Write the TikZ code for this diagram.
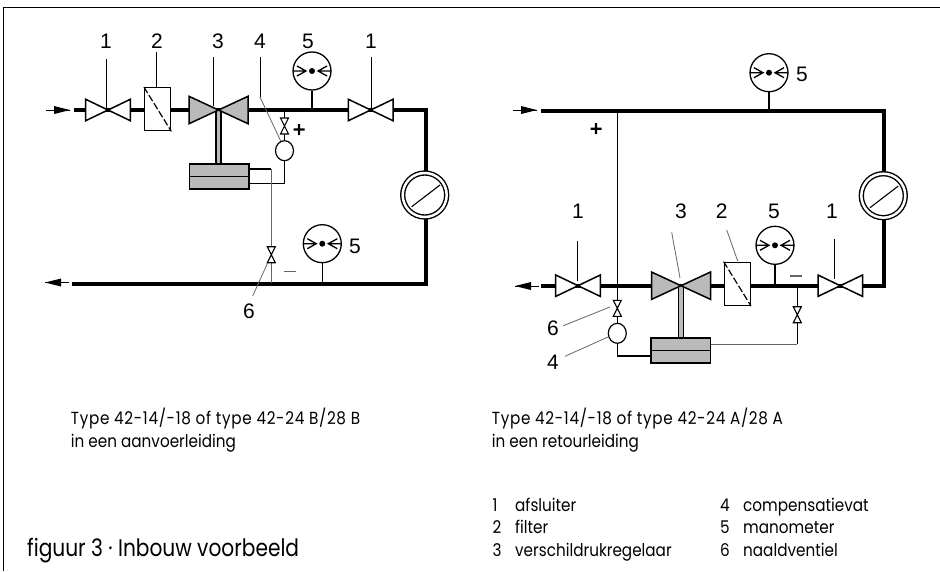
\documentclass[tikz,border=0pt]{standalone}
\usepackage{fontspec}
\usetikzlibrary{shapes.geometric}
\setmainfont{Liberation Sans}
\newfontfamily\capfont[FakeStretch=0.87]{Poppins}
\newfontfamily\capwide[FakeStretch=0.87,LetterSpace=3.9]{Poppins}
\newfontfamily\capbigfont[FakeStretch=0.84]{Poppins}
\begin{document}
\begin{tikzpicture}[x=1pt,y=-1pt,
  pipe/.style={line width=4pt,line cap=butt,line join=miter},
  thin line/.style={line width=1.1pt,black},
  graythin/.style={line width=0.8pt,black!60},
  leaderline/.style={line width=0.8pt,black!60},
  leaderblack/.style={line width=0.9pt,black},
  outline/.style={line width=1.5pt,black,line join=miter},
  num/.style={font=\fontsize{21}{21}\selectfont,inner sep=0pt},
  captext/.style={font=\capfont\fontsize{17.5}{17.5}\selectfont,anchor=base west,inner sep=0pt},
  capwidetext/.style={font=\capwide\fontsize{17.5}{17.5}\selectfont,anchor=base west,inner sep=0pt},
  capbig/.style={font=\capbigfont\fontsize{24}{24}\selectfont,anchor=base west,inner sep=0pt},
  gaugenode/.style={circle,draw,line width=1.3pt,fill=white,minimum size=38pt,inner sep=0pt},
  flownode/.style={circle,draw,double,double distance=2.5pt,line width=1.4pt,fill=white,minimum size=44pt,inner sep=0pt},
  vesselnode/.style={ellipse,draw,line width=1.2pt,fill=white,minimum width=18pt,minimum height=20pt,inner sep=0pt},
  filternode/.style={rectangle,draw,line width=1.4pt,fill=white,minimum width=26pt,minimum height=43pt,inner sep=0pt},
  boxnode/.style={rectangle,draw,line width=1.6pt,fill=black!27,minimum width=59.5pt,minimum height=25pt,inner sep=0pt},
  pics/bowtie/.style n args={3}{code={
    \draw[outline,fill=#1] (-#2,-#3) -- (#2,#3) -- (#2,-#3) -- (-#2,#3) -- cycle;}},
  pics/needle/.style={code={
    \draw[line width=1.1pt,fill=white] (-4,-8) -- (4,8) -- (-4,8) -- (4,-8) -- cycle;}},
  pics/dial/.style={code={
    \fill (0,0) circle (3);
    \draw[line width=1.3pt] (-19,0) -- (-6,0) (-15,-5) -- (-6,0) -- (-15,5);
    \draw[line width=1.3pt] (19,0) -- (6,0) (15,-5) -- (6,0) -- (15,5);}},
  pics/stemrect/.style={code={
    \draw[line width=1.1pt,fill=black!27] (-2.5,0) rectangle (2.5,#1);}},
  pics/flowarrow/.style={code={
    \draw[line width=0.9pt] (-24,0) -- (0,0);
    \fill (-16,-4) -- (0,0) -- (-16,4) -- cycle;}},
]
\useasboundingbox (0,0) rectangle (940,571);
% frame
\coordinate (f1) at (3.5,571); \coordinate (f2) at (3.5,7.5); \coordinate (f3) at (940,7.5);
\draw[line width=1.2pt] (f1) -- (f2) -- (f3);

%%%%% LEFT DIAGRAM
\coordinate (Ls) at (74,110); \coordinate (Lc1) at (426,110); \coordinate (Lc2) at (426,283.5); \coordinate (Le) at (72,283.5);
\coordinate (Lv1) at (108,110); \coordinate (Lv3) at (218.5,110); \coordinate (Lv1b) at (370.7,110);
\draw[pipe] (Ls) -- (Lc1) -- (Lc2) -- (Le);
\pic at (70,110) {flowarrow};
\pic[xscale=-1] at (45,282.5) {flowarrow};
% valves
\pic at (Lv1) {bowtie={white}{22.3}{10.7}};
\node[filternode] (Lf) at (157.6,109.2) {};
\draw[line width=1.2pt,dash pattern=on 7pt off 2.5pt] (Lf.north west) -- (Lf.south east);
\pic at (Lv1b) {bowtie={white}{22.3}{10.7}};
% regulator
\node[boxnode] (Lb) at (219.2,176.5) {};
\draw[line width=1.4pt] (Lb.west) -- (Lb.east);
\pic at (Lv3) {stemrect={54}};
\pic at (Lv3) {bowtie={black!27}{29.5}{13.7}};
% gauges
\node[gaugenode] (Lg1) at (312,71) {};
\pic at (Lg1) {dial};
\node[gaugenode] (Lg2) at (322.3,243.7) {};
\pic at (Lg2) {dial};
\coordinate (Lg1p) at (312,110); \coordinate (Lg2p) at (322.3,283.5);
\draw[line width=1.5pt] (Lg1) -- (Lg1p);
\draw[line width=1.5pt] (Lg2) -- (Lg2p);
% flowmeter
\node[flownode] (Lm) at (424.7,195) {};
\coordinate (Lm1) at (411.7,206.7); \coordinate (Lm2) at (440,185);
\draw[line width=1.1pt] (Lm1) -- (Lm2);
% impulse lines
\node[vesselnode] (Lt) at (284.5,150.7) {};
\coordinate (Ln1) at (284.5,126); \coordinate (Lnp) at (284.5,110);
\draw[thin line] (Lnp) -- (Lt);
\pic at (Ln1) {needle};
\coordinate (Lq1) at (284.5,183.3); \coordinate (Lq2) at (249,183.3);
\draw[thin line] (Lt) -- (Lq1) -- (Lq2);
\coordinate (Lr1) at (249,169); \coordinate (Lr2) at (271.3,169); \coordinate (Lr3) at (271.3,283);
\draw[thin line] (Lr1) -- (Lr2);
\draw[graythin] (Lr2) -- (Lr3);
\pic at (271.3,254.7) {needle};
% texts
\node[num] (Ln1a) at (106,41) {1};
\node[num] (Ln2a) at (157,41) {2};
\node[num] (Ln3a) at (218,41) {3};
\node[num] (Ln4a) at (260,41) {4};
\node[num] (Ln5a) at (308,41) {5};
\node[num] (Ln1b) at (371,41) {1};
\node[num] (Ln5b) at (355,246) {5};
\node[num] (Ln6a) at (249,311) {6};
% leaders
\coordinate (a1) at (106.5,59); \coordinate (a2) at (106.5,109);
\draw[leaderblack] (a1) -- (a2);
\coordinate (b1) at (156.3,52); \coordinate (b2) at (156.3,87);
\draw[leaderblack] (b1) -- (b2);
\coordinate (c1) at (213.3,57); \coordinate (c2) at (213.3,106);
\draw[leaderblack] (c1) -- (c2);
\coordinate (d1) at (260,57); \coordinate (d2) at (260,97); \coordinate (d3) at (280.7,141);
\draw[leaderblack] (d1) -- (d2);
\draw[leaderline] (d2) -- (d3);
\coordinate (e1) at (371.3,57); \coordinate (e2) at (371.3,110);
\draw[leaderblack] (e1) -- (e2);
\coordinate (g1) at (267.7,262.7); \coordinate (g2) at (252.7,296);
\draw[leaderline] (g1) -- (g2);
% plus / minus
\coordinate (Lpl) at (299,129.5);
\fill (Lpl) +(-5.5,-1.2) rectangle +(5.5,1.2) (Lpl) +(-1.2,-5.5) rectangle +(1.2,5.5);
\coordinate (Lmi1) at (284,271.5); \coordinate (Lmi2) at (296,271.5);
\draw[line width=1.2pt,black!60] (Lmi1) -- (Lmi2);

%%%%% RIGHT DIAGRAM
\coordinate (Rs) at (541,111); \coordinate (Rc1) at (884,111); \coordinate (Rc2) at (884,285.7); \coordinate (Re) at (541,285.7);
\draw[pipe] (Rs) -- (Rc1) -- (Rc2) -- (Re);
\pic at (537,110) {flowarrow};
\pic[xscale=-1] at (515,286) {flowarrow};
% impulse lines
\node[vesselnode] (Rt) at (617.3,333.3) {};
\coordinate (Rp) at (617.3,111);
\draw[thin line] (Rp) -- (Rt);
\pic at (617.3,308.3) {needle};
\coordinate (Rq1) at (617.3,356); \coordinate (Rq2) at (651,356);
\draw[thin line] (Rt) -- (Rq1) -- (Rq2);
\coordinate (Ru1) at (797.3,285.7); \coordinate (Ru2) at (797.3,344.3); \coordinate (Ru3) at (710,344.3);
\draw[thin line] (Ru1) -- (Ru2);
\draw[graythin] (Ru2) -- (Ru3);
\pic at (797.3,314.7) {needle};
% valves
\coordinate (Rv3) at (681,285.7);
\pic at (578,285.7) {bowtie={white}{22.3}{10.7}};
\pic at (840.3,285.7) {bowtie={white}{22.3}{10.7}};
\node[filternode] (Rf) at (737.3,283.8) {};
\draw[line width=1.2pt,dash pattern=on 7pt off 2.5pt] (Rf.north west) -- (Rf.south east);
\node[boxnode] (Rb) at (680.7,350.3) {};
\draw[line width=1.4pt] (Rb.west) -- (Rb.east);
\pic at (Rv3) {stemrect={52}};
\pic at (Rv3) {bowtie={black!27}{29.5}{13.7}};
% gauges
\node[gaugenode] (Rg1) at (769,72.7) {};
\pic at (Rg1) {dial};
\node[gaugenode] (Rg2) at (775,245.3) {};
\pic at (Rg2) {dial};
\coordinate (Rg1p) at (769,111); \coordinate (Rg2p) at (775,285.7);
\draw[line width=1.5pt] (Rg1) -- (Rg1p);
\draw[line width=1.5pt] (Rg2) -- (Rg2p);
% flowmeter
\node[flownode] (Rm) at (883.3,195.7) {};
\coordinate (Rm1) at (870,207.7); \coordinate (Rm2) at (898.3,186);
\draw[line width=1.1pt] (Rm1) -- (Rm2);
% numbers
\node[num] (Rn5a) at (802,74) {5};
\node[num] (Rn1a) at (578,211) {1};
\node[num] (Rn3a) at (681,211) {3};
\node[num] (Rn2a) at (721.7,211) {2};
\node[num] (Rn5b) at (774,211) {5};
\node[num] (Rn1b) at (832,211) {1};
\node[num] (Rn6a) at (553,328) {6};
\node[num] (Rn4a) at (553,362) {4};
% leaders
\coordinate (h1) at (577.3,241); \coordinate (h2) at (577.3,281);
\draw[leaderblack] (h1) -- (h2);
\coordinate (i1) at (671.7,232.3); \coordinate (i2) at (680,278);
\draw[leaderline] (i1) -- (i2);
\coordinate (j1) at (726.7,230); \coordinate (j2) at (737.7,261);
\draw[leaderline] (j1) -- (j2);
\coordinate (k1) at (834.5,239); \coordinate (k2) at (834.5,279);
\draw[leaderblack] (k1) -- (k2);
\coordinate (m1) at (563.3,325.7); \coordinate (m2) at (610,307);
\draw[leaderline] (m1) -- (m2);
\coordinate (n1) at (565,356.3); \coordinate (n2) at (608,337);
\draw[leaderline] (n1) -- (n2);
% plus / minus
\coordinate (Rpl) at (596,128.7);
\fill (Rpl) +(-5.5,-1.2) rectangle +(5.5,1.2) (Rpl) +(-1.2,-5.5) rectangle +(1.2,5.5);
\coordinate (Rmi1) at (790.3,276); \coordinate (Rmi2) at (802.3,276);
\draw[line width=1.2pt,black!60] (Rmi1) -- (Rmi2);

%%%%% CAPTIONS
\node[capwidetext] (t1) at (70.7,424) {Type 42-14/-18 of type 42-24 B/28 B};
\node[captext] (t2) at (70.7,447) {in een aanvoerleiding};
\node[capwidetext] (t3) at (491.7,424) {Type 42-14/-18 of type 42-24 A/28 A};
\node[captext] (t4) at (491.7,447) {in een retourleiding};
\node[capbig] (t5) at (27,556) {figuur 3 · Inbouw voorbeeld};
\node[captext] (l1) at (492.3,511) {1};
\node[captext] (l2) at (492.3,533) {2};
\node[captext] (l3) at (492.3,556) {3};
\node[captext] (l1t) at (515,511) {afsluiter};
\node[captext] (l2t) at (515,533) {filter};
\node[captext] (l3t) at (515,556) {verschildrukregelaar};
\node[captext] (l4) at (720,511) {4};
\node[captext] (l5) at (720,533) {5};
\node[captext] (l6) at (720,556) {6};
\node[captext] (l4t) at (743,511) {compensatievat};
\node[captext] (l5t) at (743,533) {manometer};
\node[captext] (l6t) at (743,556) {naaldventiel};
\end{tikzpicture}
\end{document}
